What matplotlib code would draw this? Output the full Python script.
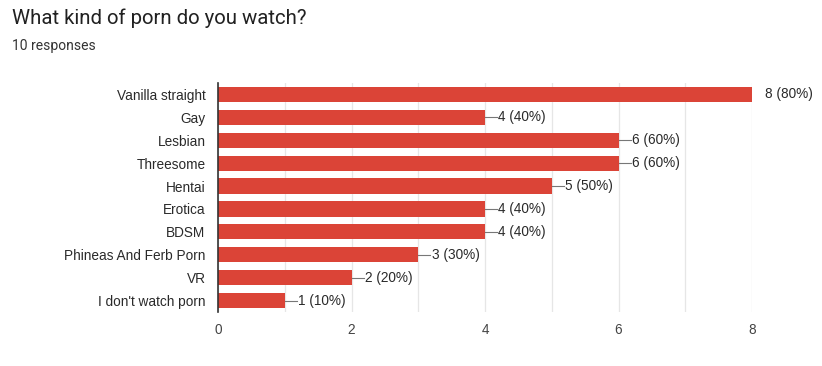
import matplotlib.pyplot as plt
import numpy as np

plt.rcParams['font.family'] = ['Liberation Sans', 'DejaVu Sans']

categories = ['Vanilla straight', 'Gay', 'Lesbian', 'Threesome', 'Hentai',
              'Erotica', 'BDSM', 'Phineas And Ferb Porn', 'VR', "I don't watch porn"]
counts = [8, 4, 6, 6, 5, 4, 4, 3, 2, 1]
total_responses = 10

fig = plt.figure(figsize=(8.22, 3.66), dpi=100)
ax = fig.add_axes([218 / 822, 1 - 312 / 366, (752 - 218) / 822, (312 - 83) / 366])

y = np.arange(len(categories))
ax.barh(y, counts, height=0.66, color='#db4437', zorder=3)

# value labels, leader line only inside the plot area
xmax = 8
for yi, c in zip(y, counts):
    if c < xmax:
        ax.plot([c, c + 0.18], [yi, yi], color='#777777', lw=0.8, zorder=2)
    ax.text(c + 0.2, yi, f'{c} ({c * 100 // total_responses}%)', va='center',
            ha='left', fontsize=9.8, color='#2a2a2a')

ax.set_ylim(len(categories) - 0.5, -0.5)
ax.set_xlim(0, xmax)
ax.set_yticks(y)
ax.set_yticklabels(categories, fontsize=9.8, color='#2a2a2a')
ax.set_xticks([0, 2, 4, 6, 8])
ax.set_xticks(np.arange(0, 9, 1), minor=True)
ax.tick_params(axis='x', which='both', length=0, labelsize=9.8, labelcolor='#444444', pad=8)
ax.tick_params(axis='y', length=0, pad=9)
ax.grid(axis='x', which='both', color='#e6e6e6', lw=0.9, zorder=0)

for s in ['top', 'right', 'bottom']:
    ax.spines[s].set_visible(False)
ax.spines['left'].set_color('#333333')
ax.spines['left'].set_linewidth(1.2)
ax.spines['left'].set_zorder(4)

fig.text(12 / 822, 1 - 18 / 366, 'What kind of porn do you watch?', fontsize=14.7,
         color='#212121', va='center', ha='left', family='Roboto')
fig.text(12 / 822, 1 - 46 / 366, '10 responses', fontsize=10,
         color='#333333', va='center', ha='left', family='Roboto')

fig.savefig('out.png', dpi=100)
